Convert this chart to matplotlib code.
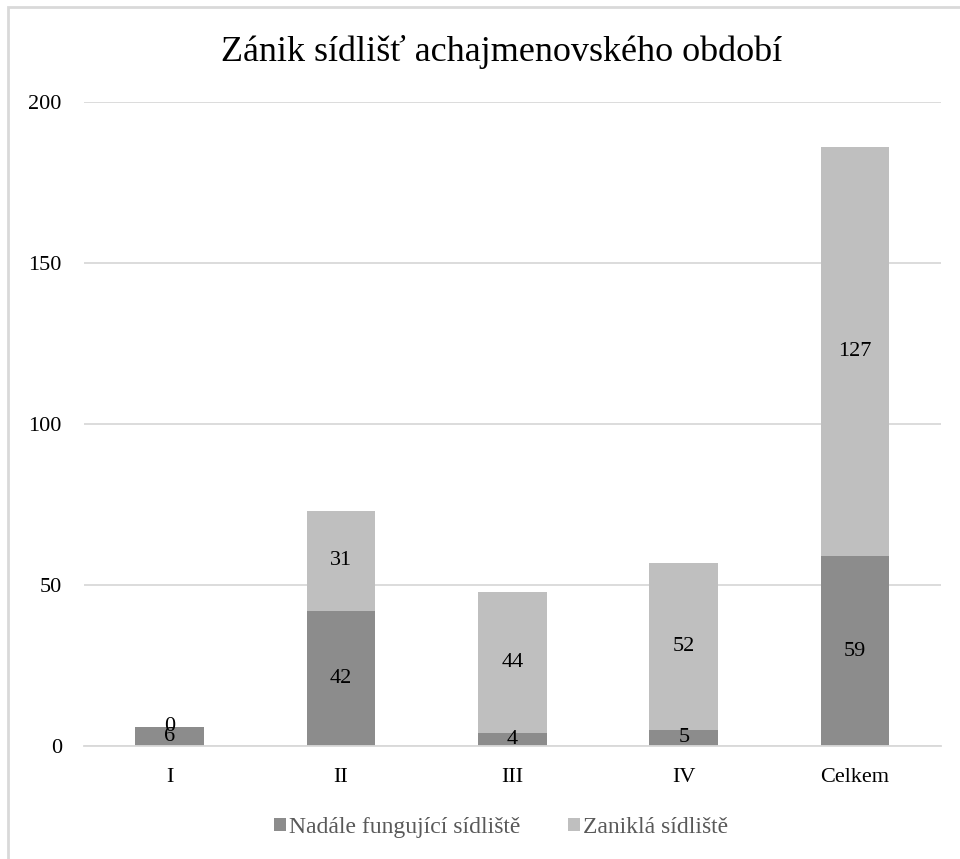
import matplotlib.pyplot as plt
from matplotlib.patches import Rectangle

categories = ["I", "II", "III", "IV", "Celkem"]
fungujici = [6, 42, 4, 5, 59]
zanikla = [0, 31, 44, 52, 127]
series_names = ["Nadále fungující sídliště", "Zaniklá sídliště"]
colors = ["#8c8c8c", "#bfbfbf"]

plt.rcParams['font.family'] = ['Liberation Serif', 'DejaVu Serif']

fig = plt.figure(figsize=(9.6, 8.59), dpi=100)
ax = fig.add_axes([0.0875, 0.1315, 0.8925, 0.7495])

x = list(range(len(categories)))
b1 = ax.bar(x, fungujici, width=0.4, color=colors[0], label=series_names[0], zorder=2)
b2 = ax.bar(x, zanikla, width=0.4, bottom=fungujici, color=colors[1], label=series_names[1], zorder=2)
ax.bar_label(b1, label_type="center", fontsize=16)
ax.bar_label(b2, label_type="center", fontsize=16)

ax.set_xlim(-0.5, 4.5)
ax.set_ylim(0, 200)
ax.set_yticks([0, 50, 100, 150, 200])
ax.set_xticks(x)
ax.set_xticklabels(categories)
ax.tick_params(axis="both", length=0, labelsize=16, colors="#000000")
ax.tick_params(axis="y", pad=16)
ax.tick_params(axis="x", pad=16)
ax.grid(axis="y", color="#d9d9d9", linewidth=1.3, zorder=0)
for s in ["top", "right", "left"]:
    ax.spines[s].set_visible(False)
ax.spines["bottom"].set_color("#d9d9d9")
ax.spines["bottom"].set_linewidth(1.3)

fig.text(0.522, 0.94, "Zánik sídlišť achajmenovského období", ha="center", va="center", fontsize=26)
fig.legend(loc="center", bbox_to_anchor=(0.522, 0.037), ncol=2, frameon=False, fontsize=17,
           handlelength=0.5, handleheight=0.5, handletextpad=0.15, columnspacing=2.0, labelcolor="#595959")

fig.patches.append(Rectangle((8 / 960, -0.1), 1.2, 1 - 7 / 859 + 0.1, transform=fig.transFigure,
                             fill=False, edgecolor="#d9d9d9", linewidth=2))

fig.savefig("out.png", dpi=100)
